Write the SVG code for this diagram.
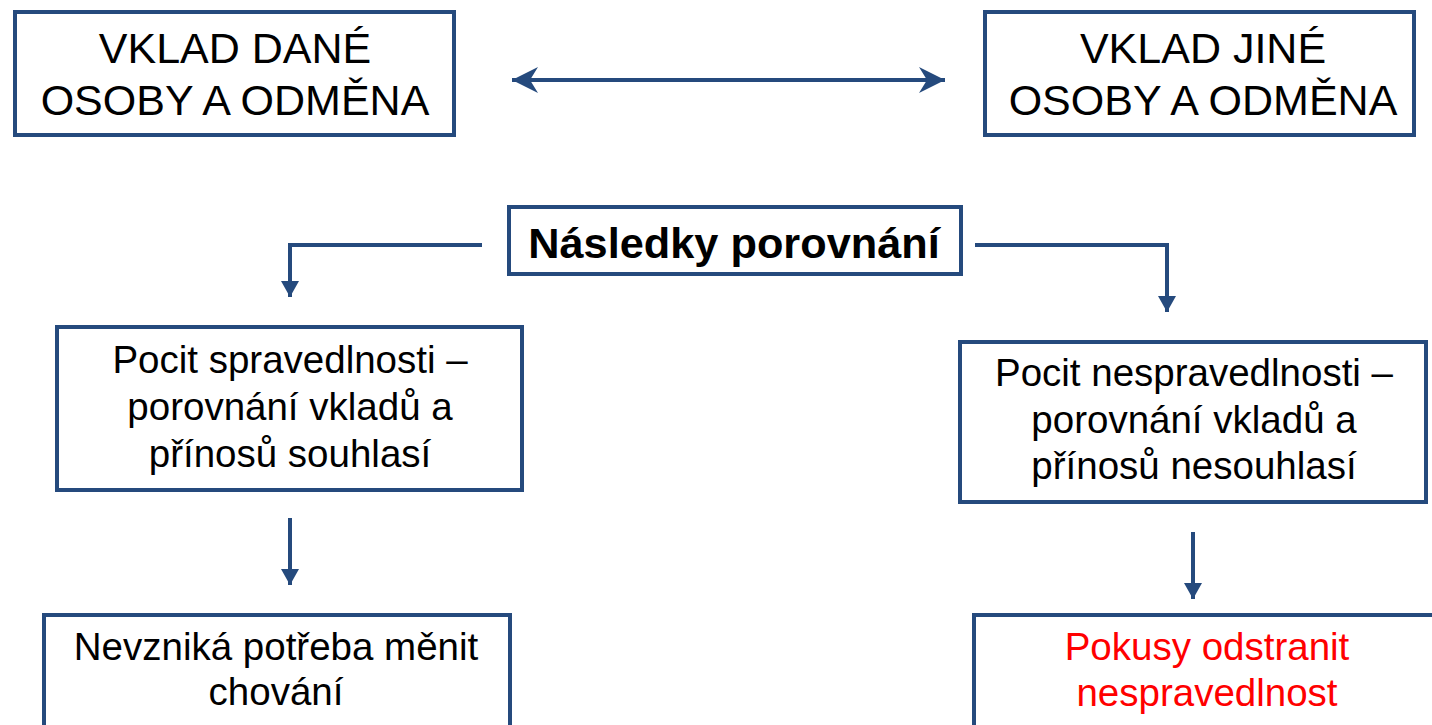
<svg xmlns="http://www.w3.org/2000/svg" width="1432" height="725" viewBox="0 0 1432 725">
<style>
.box{fill:#ffffff;stroke:#254a7d;stroke-width:4}
.t{font-family:"Liberation Sans",Arial,sans-serif;fill:#000000;text-anchor:middle}
.big{font-size:43px}
.mid{font-size:38.5px}
.bold{font-size:43.3px;font-weight:bold}
.red{fill:#ff0000}
.con{fill:none;stroke:#254a7d;stroke-width:4}
</style>
<defs>
<marker id="barb" markerUnits="userSpaceOnUse" markerWidth="30" markerHeight="30" viewBox="0 0 30 30" refX="26" refY="15" orient="auto-start-reverse">
<path d="M0,2 L26,15 L0,28 L8,15 Z" fill="#254a7d"/>
</marker>
<marker id="tri" markerUnits="userSpaceOnUse" markerWidth="22" markerHeight="22" viewBox="0 0 22 22" refX="16" refY="11" orient="auto">
<path d="M0,2 L16,11 L0,20 Z" fill="#254a7d"/>
</marker>
</defs>
<rect width="1432" height="725" fill="#ffffff"/>
<g id="connectors">
<line class="con" x1="512" y1="80" x2="945" y2="80" marker-start="url(#barb)" marker-end="url(#barb)"/>
<path class="con" d="M482,245 H290 V297" marker-end="url(#tri)"/>
<path class="con" d="M975,245 H1167 V312" marker-end="url(#tri)"/>
<line class="con" x1="290" y1="518" x2="290" y2="585" marker-end="url(#tri)"/>
<line class="con" x1="1193" y1="532" x2="1193" y2="599" marker-end="url(#tri)"/>
</g>
<g id="vklad-dane">
<rect class="box" x="15" y="12" width="439" height="123"/>
<text class="t big" x="235" y="63">VKLAD DANÉ</text>
<text class="t big" x="235" y="115">OSOBY A ODMĚNA</text>
</g>
<g id="vklad-jine">
<rect class="box" x="985" y="12" width="429" height="123"/>
<text class="t big" x="1203" y="63">VKLAD JINÉ</text>
<text class="t big" x="1203" y="115">OSOBY A ODMĚNA</text>
</g>
<g id="nasledky">
<rect class="box" x="509" y="207" width="452" height="67"/>
<text class="t bold" x="734" y="258">Následky porovnání</text>
</g>
<g id="spravedlnost">
<rect class="box" x="57" y="327" width="465" height="163"/>
<text class="t mid" x="290" y="373">Pocit spravedlnosti –</text>
<text class="t mid" x="290" y="420">porovnání vkladů a</text>
<text class="t mid" x="290" y="467">přínosů souhlasí</text>
</g>
<g id="nespravedlnost">
<rect class="box" x="960" y="342" width="466" height="160"/>
<text class="t mid" x="1194" y="386">Pocit nespravedlnosti –</text>
<text class="t mid" x="1194" y="433">porovnání vkladů a</text>
<text class="t mid" x="1194" y="479">přínosů nesouhlasí</text>
</g>
<g id="nevznika">
<rect class="box" x="44" y="615" width="466" height="130"/>
<text class="t mid" x="276" y="660">Nevzniká potřeba měnit</text>
<text class="t mid" x="276" y="705">chování</text>
</g>
<g id="pokusy">
<rect class="box" x="974" y="615" width="480" height="130"/>
<text class="t mid red" x="1207" y="660">Pokusy odstranit</text>
<text class="t mid red" x="1207" y="706">nespravedlnost</text>
</g>
</svg>
